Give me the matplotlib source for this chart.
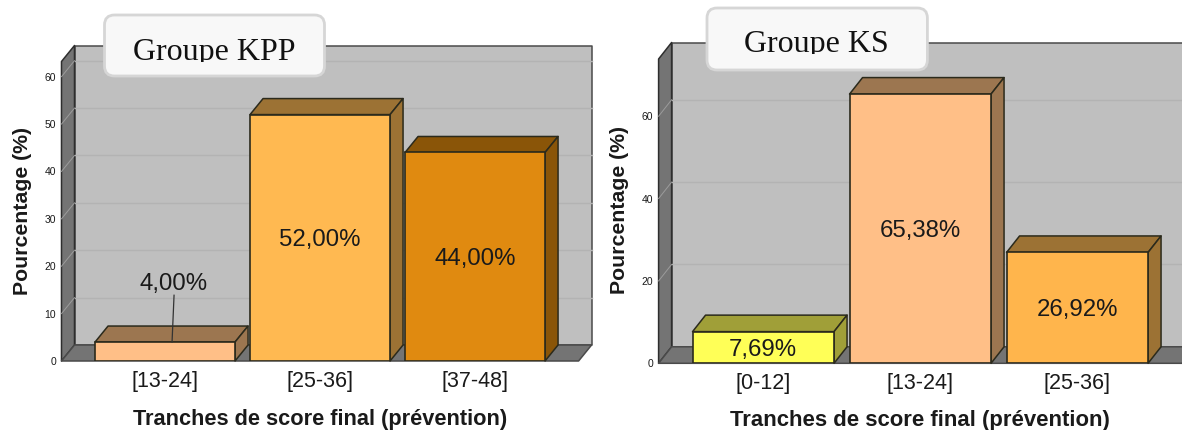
import matplotlib
matplotlib.use("Agg")
import matplotlib.pyplot as plt
from matplotlib.patches import Polygon, FancyBboxPatch, Rectangle
from matplotlib.transforms import IdentityTransform

W, H = 1182, 430

kpp_labels = ["[13-24]", "[25-36]", "[37-48]"]
kpp_values = [4.00, 52.00, 44.00]
kpp_colors = ["#ffbf87", "#ffb951", "#e08a10"]
kpp_sides = ["#9c7650", "#9c7234", "#8a5508"]
kpp_ticks = [0, 10, 20, 30, 40, 50, 60]

ks_labels = ["[0-12]", "[13-24]", "[25-36]"]
ks_values = [7.69, 65.38, 26.92]
ks_colors = ["#ffff57", "#ffbf87", "#ffb54c"]
ks_sides = ["#a09f38", "#9c7650", "#9c7234"]
ks_ticks = [0, 20, 40, 60]

WALL = "#bfbfbf"
SIDE = "#747474"
EDGE = "#2b2a1c"

plt.rcParams["font.family"] = ["Liberation Sans", "DejaVu Sans"]
fig = plt.figure(figsize=(W / 100, H / 100), dpi=100)


def make_axes(x0, x1, y_top, y_bottom):
    return fig.add_axes([x0 / W, 1 - y_bottom / H, (x1 - x0) / W, (y_bottom - y_top) / H])


def draw_chart(ax, labels, values, colors, sides, ticks, ymax, pitch, bar_w, dx_px, dy_px):
    left = -(ax.get_position().width * W / pitch - 2) / 2
    right = 2 - left
    ax.set_xlim(left, right)
    ax.set_ylim(0, ymax)
    ax.patch.set_visible(False)
    for s in ax.spines.values():
        s.set_visible(False)

    # depth of the 3D effect, in data units
    dx = dx_px / pitch
    dy = dy_px * ymax / (ax.get_position().height * H)
    w = bar_w / pitch / 2

    def poly(pts, fc, ec=EDGE, lw=1.1, z=2):
        ax.add_patch(Polygon(pts, closed=True, fc=fc, ec=ec, lw=lw, clip_on=False,
                             joinstyle="round", zorder=z))

    poly([(left + dx, dy), (right + dx, dy), (right + dx, ymax + dy), (left + dx, ymax + dy)],
         WALL, ec="#4a4a4a", z=1)
    poly([(left, 0), (left + dx, dy), (left + dx, ymax + dy), (left, ymax)], SIDE, ec="#2e2e2e", z=1)
    poly([(left, 0), (right, 0), (right + dx, dy), (left + dx, dy)], SIDE, ec="#4a4a4a", z=1)

    for t in ticks[1:]:
        ax.plot([left + dx, right + dx], [t + dy, t + dy], color="#b3b3b3", lw=1.0,
                clip_on=False, zorder=1.5)
        ax.plot([left, left + dx], [t, t + dy], color="#9c9c9c", lw=0.7,
                clip_on=False, zorder=1.5)

    # bars are drawn left to right so each front face covers the previous side
    for i, v in enumerate(values):
        poly([(i - w, v), (i + w, v), (i + w + dx, v + dy), (i - w + dx, v + dy)], sides[i], z=3)
        poly([(i + w, 0), (i + w + dx, dy), (i + w + dx, v + dy), (i + w, v)], sides[i], z=3)
        ax.bar(i, v, width=2 * w, color=colors[i], edgecolor=EDGE, linewidth=1.2, zorder=4)
        txt = f"{v:.2f}".replace(".", ",") + "%"
        if v < 5:
            # small bar: label sits above with a leader line
            ax.plot([i + 7 / pitch, i + 9 / pitch], [v, v + dy + 6.5], color="#333333", lw=0.9, zorder=5)
            ax.text(i + 9 / pitch, v + dy + 6.6, txt, ha="center", va="bottom", fontsize=17.3,
                    color="#1a1a1a", zorder=6)
        else:
            ax.text(i, v / 2, txt, ha="center", va="center_baseline", fontsize=17.3,
                    color="#1a1a1a", zorder=6)

    ax.set_xticks(range(3), labels, fontsize=15.5, color="#1a1a1a")
    ax.set_yticks(ticks, [str(t) for t in ticks], fontsize=7.5, color="#1a1a1a")
    ax.tick_params(axis="both", length=0)
    ax.tick_params(axis="x", pad=7)
    ax.tick_params(axis="y", pad=4)


ax1 = make_axes(61.5, 578.6, 61.5, 361)
draw_chart(ax1, kpp_labels, kpp_values, kpp_colors, kpp_sides, kpp_ticks, 63.2, 155, 140, 13, 16)
ax1.set_xlabel("Tranches de score final (prévention)", fontsize=15.7, fontweight="bold", color="#1a1a1a")
ax1.set_ylabel("Pourcentage (%)", fontsize=15.3, fontweight="bold", color="#1a1a1a")
ax1.xaxis.set_label_coords((320 - 61.5) / 517.1, -(420 - 361) / 299.5, ax1.transAxes)
ax1.yaxis.label.set_va("center")
ax1.yaxis.set_label_coords((23 - 61.5) / 517.1, (361 - 211) / 299.5, ax1.transAxes)
ax1.xaxis.label.set_va("center")

ax2 = make_axes(658.6, 1182, 59, 363.3)
draw_chart(ax2, ks_labels, ks_values, ks_colors, ks_sides, ks_ticks, 73.9, 157, 141.5, 13, 16.5)
ax2.set_xlabel("Tranches de score final (prévention)", fontsize=15.9, fontweight="bold", color="#1a1a1a")
ax2.set_ylabel("Pourcentage (%)", fontsize=15.3, fontweight="bold", color="#1a1a1a")
ax2.xaxis.set_label_coords((920 - 658.6) / 523.4, -(420.5 - 363.3) / 304.3, ax2.transAxes)
ax2.yaxis.label.set_va("center")
ax2.yaxis.set_label_coords((19.5 + 600 - 658.6) / 523.4, (363.3 - 210.5) / 304.3, ax2.transAxes)
ax2.xaxis.label.set_va("center")


def title_box(text, x0, x1, y0, y1, tx, base, clip_y):
    # white rounded label laid over the top of the wall, in pixel positions
    box = FancyBboxPatch((x0 + 8, H - y1 + 8), x1 - x0 - 16, y1 - y0 - 16,
                         boxstyle="round,pad=8,rounding_size=10", fc="#f8f8f8", ec="#d6d6d6", lw=2,
                         transform=IdentityTransform(), zorder=10)
    fig.add_artist(box)
    t = fig.text(tx / W, 1 - base / H, text, ha="center", va="baseline", fontsize=23,
                 family="Liberation Serif", color="#111111", zorder=11)
    # descenders are cut off at the bottom of the label
    t.set_clip_path(Rectangle((x0, H - clip_y), x1 - x0, clip_y - y0, transform=IdentityTransform()))


title_box("Groupe KPP", 104.5, 324.5, 15, 76, 214, 60, 62)
title_box("Groupe KS", 707, 927.4, 8, 70, 816, 52, 54)

fig.savefig("out.png", dpi=100, facecolor="white")
